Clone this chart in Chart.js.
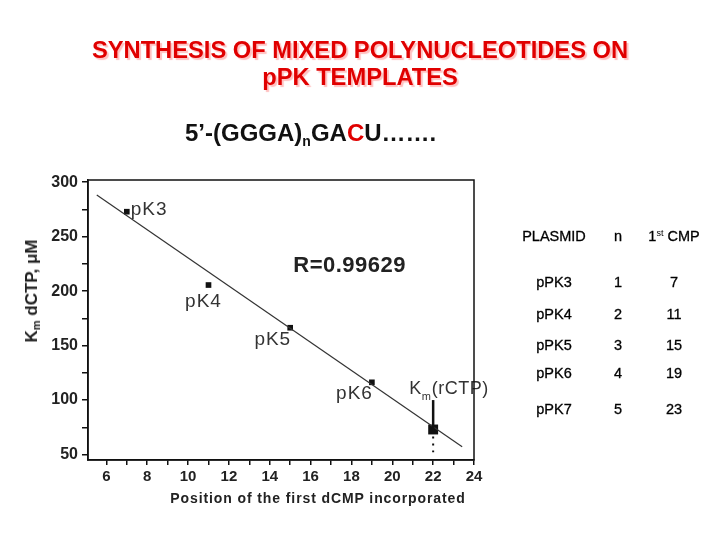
<!DOCTYPE html>
<html>
<head>
<meta charset="utf-8">
<script src="https://cdn.jsdelivr.net/npm/chart.js@4/dist/chart.umd.min.js"></script>
<style>
  html, body { margin: 0; padding: 0; background: #fff; }
  #wrap { position: relative; width: 720px; height: 540px; overflow: hidden; font-family: Arial, "Liberation Sans", sans-serif; }
  canvas { position: absolute; left: 0; top: 0; }
  .abs { position: absolute; white-space: nowrap; }
  .title { left: 0; width: 720px; text-align: center; color: #e00000; font-weight: bold; font-size: 23.7px; line-height: 28px;
           text-shadow: 2px 2px 1px rgba(255,140,140,0.55); }
  .sub { font-weight: bold; font-size: 24px; line-height: 28px; color: #111; }
  .sub sub { font-size: 14px; vertical-align: -5px; }
  .ytitle { font-weight: bold; font-size: 17px; color: #222; transform: translate(-50%, -50%) rotate(-90deg); }
  .ytitle sub { font-size: 11px; vertical-align: -3px; }
  .xtitle { font-weight: bold; font-size: 14px; letter-spacing: 0.9px; color: #222; transform: translate(-50%, -50%); }
  .cell { font-size: 14.5px; color: #000; transform: translate(-50%, -50%); -webkit-text-stroke: 0.3px #000; }
  .cell sup { font-size: 9px; vertical-align: 5px; -webkit-text-stroke: 0; }
</style>
</head>
<body>
<div id="wrap">
  <canvas id="c" width="720" height="540"></canvas>
  <div class="abs title" style="top:36px">SYNTHESIS OF MIXED POLYNUCLEOTIDES ON</div>
  <div class="abs title" style="top:63px">pPK TEMPLATES</div>
  <div class="abs sub" style="left:185px; top:119px">5’-(GGGA)<sub>n</sub>GA<span style="color:#e00000">C</span>U…….</div>
  <div class="abs ytitle" style="left:32px; top:291px">K<sub>m</sub> dCTP, μM</div>
  <div class="abs xtitle" style="left:318px; top:498px">Position of the first dCMP incorporated</div>
  <div id="table"></div>
</div>
<script>
// ---- data ----
const pointLabels = ['pK3', 'pK4', 'pK5', 'pK6'];
const firstPositions = [7, 11, 15, 19];
const kmDCTP = [272.9, 205.6, 166.4, 116.3];
const rctpLabel = 'rCTP';
const rctpPosition = [22];
const rctpKm = [73];
const rctpErrLow = [52];
const rctpErrHigh = [100];
const fitPositions = [5.53, 23.42];
const fitValues = [288.2, 57.2];
const correlation = 'R=0.99629';
const xTickValues = [6, 7, 8, 9, 10, 11, 12, 13, 14, 15, 16, 17, 18, 19, 20, 21, 22, 23, 24];
const xLabelled = [6, 8, 10, 12, 14, 16, 18, 20, 22, 24];
const yTickValues = [50, 75, 100, 125, 150, 175, 200, 225, 250, 275, 300];
const yLabelled = [50, 100, 150, 200, 250, 300];
const tableHeader = ['PLASMID', 'n', '1<sup>st</sup> CMP'];
const tablePlasmids = ['pPK3', 'pPK4', 'pPK5', 'pPK6', 'pPK7'];
const tableN = [1, 2, 3, 4, 5];
const tableFirstCMP = [7, 11, 15, 19, 23];

// ---- table (HTML text) ----
const colX = [554, 618, 674];
const headY = 236;
const rowY = [282, 314, 345, 373, 409];
let html = '';
tableHeader.forEach((h, i) => { html += `<div class="abs cell" style="left:${colX[i]}px; top:${headY}px">${h}</div>`; });
tablePlasmids.forEach((p, r) => {
  [p, tableN[r], tableFirstCMP[r]].forEach((v, i) => {
    html += `<div class="abs cell" style="left:${colX[i]}px; top:${rowY[r]}px">${v}</div>`;
  });
});
document.getElementById('table').innerHTML = html;

// ---- plugins ----
const boxPlugin = {
  id: 'box',
  afterDraw(chart) {
    const { ctx, chartArea: a } = chart;
    ctx.save();
    ctx.strokeStyle = '#111';
    ctx.lineWidth = 1.5;
    ctx.strokeRect(a.left, a.top, a.right - a.left, a.bottom - a.top);
    ctx.restore();
  }
};

const FONT = 'Arial, "Liberation Sans", sans-serif';
const annotPlugin = {
  id: 'annot',
  afterDatasetsDraw(chart) {
    const { ctx, scales: { x, y } } = chart;
    const pts = chart.getDatasetMeta(1).data;
    ctx.save();
    ctx.fillStyle = '#333';
    ctx.font = '19px ' + FONT;
    ctx.letterSpacing = '1px';
    ctx.textBaseline = 'middle';
    const place = [
      { dx: 4, dy: -2, align: 'left' },
      { dx: -5, dy: 17, align: 'center' },
      { dx: 1, dy: 12, align: 'right' },
      { dx: 1, dy: 11, align: 'right' }
    ];
    pts.forEach((p, i) => {
      const o = place[i];
      ctx.textAlign = o.align;
      ctx.fillText(pointLabels[i], p.x + o.dx, p.y + o.dy);
    });
    // Km(rCTP) label with subscript
    const rp = chart.getDatasetMeta(2).data[0];
    let lx = rp.x - 24, ly = rp.y - 40;
    ctx.textAlign = 'left';
    ctx.font = '18px ' + FONT;
    ctx.letterSpacing = '0.5px';
    ctx.fillText('K', lx, ly);
    lx += ctx.measureText('K').width;
    ctx.font = '11px ' + FONT;
    ctx.letterSpacing = '0px';
    ctx.fillText('m', lx, ly + 7);
    lx += ctx.measureText('m').width + 1;
    ctx.font = '18px ' + FONT;
    ctx.letterSpacing = '0.5px';
    ctx.fillText('(' + rctpLabel + ')', lx, ly);
    // error bar
    const ex = x.getPixelForValue(rctpPosition[0]);
    ctx.strokeStyle = '#111';
    ctx.lineWidth = 2.5;
    ctx.beginPath();
    ctx.moveTo(ex, y.getPixelForValue(rctpErrHigh[0]));
    ctx.lineTo(ex, y.getPixelForValue(rctpKm[0]));
    ctx.stroke();
    ctx.setLineDash([2, 5]);
    ctx.lineWidth = 2;
    ctx.beginPath();
    ctx.moveTo(ex, y.getPixelForValue(rctpKm[0]));
    ctx.lineTo(ex, y.getPixelForValue(rctpErrLow[0]));
    ctx.stroke();
    ctx.setLineDash([]);
    // correlation
    ctx.letterSpacing = '0.5px';
    ctx.font = 'bold 22px ' + FONT;
    ctx.fillStyle = '#222';
    ctx.textAlign = 'left';
    ctx.fillText(correlation, x.getPixelForValue(15.15), y.getPixelForValue(223));
    ctx.restore();
  }
};

new Chart(document.getElementById('c'), {
  type: 'scatter',
  data: {
    datasets: [
      {
        type: 'line',
        data: fitPositions.map((v, i) => ({ x: v, y: fitValues[i] })),
        borderColor: '#333',
        borderWidth: 1.2,
        pointRadius: 0,
        fill: false
      },
      {
        data: firstPositions.map((v, i) => ({ x: v, y: kmDCTP[i] })),
        pointStyle: 'rect',
        pointRadius: 4,
        backgroundColor: '#111',
        borderColor: '#111',
        borderWidth: 0
      },
      {
        data: rctpPosition.map((v, i) => ({ x: v, y: rctpKm[i] })),
        pointStyle: 'rect',
        pointRadius: 7,
        backgroundColor: '#111',
        borderColor: '#111',
        borderWidth: 0
      }
    ]
  },
  options: {
    responsive: false,
    animation: false,
    devicePixelRatio: 1,
    layout: { padding: { left: 0, top: 180, right: 246, bottom: 0 } },
    plugins: { legend: { display: false }, tooltip: { enabled: false } },
    scales: {
      x: {
        type: 'linear',
        min: 5.1,
        max: 24,
        afterFit: (s) => { s.height = 80; },
        afterBuildTicks: (s) => { s.ticks = xTickValues.map(v => ({ value: v })); },
        grid: { drawOnChartArea: false, drawTicks: true, tickLength: 5, color: '#111', lineWidth: 1.5 },
        border: { display: true, color: '#111', width: 1.5 },
        ticks: {
          autoSkip: false, maxRotation: 0, padding: 3, color: '#222',
          font: { family: FONT, size: 15, weight: 'bold' },
          callback: (v) => xLabelled.includes(v) ? String(v) : ''
        }
      },
      y: {
        type: 'linear',
        min: 45,
        max: 302,
        afterFit: (s) => { s.width = 88; },
        afterBuildTicks: (s) => { s.ticks = yTickValues.map(v => ({ value: v })); },
        grid: { drawOnChartArea: false, drawTicks: true, tickLength: 6, color: '#111', lineWidth: 1.5 },
        border: { display: true, color: '#111', width: 1.5 },
        ticks: {
          autoSkip: false, padding: 4, color: '#222',
          font: { family: FONT, size: 16, weight: 'bold' },
          callback: (v) => yLabelled.includes(v) ? String(v) : ''
        }
      }
    }
  },
  plugins: [boxPlugin, annotPlugin]
});
</script>
</body>
</html>
